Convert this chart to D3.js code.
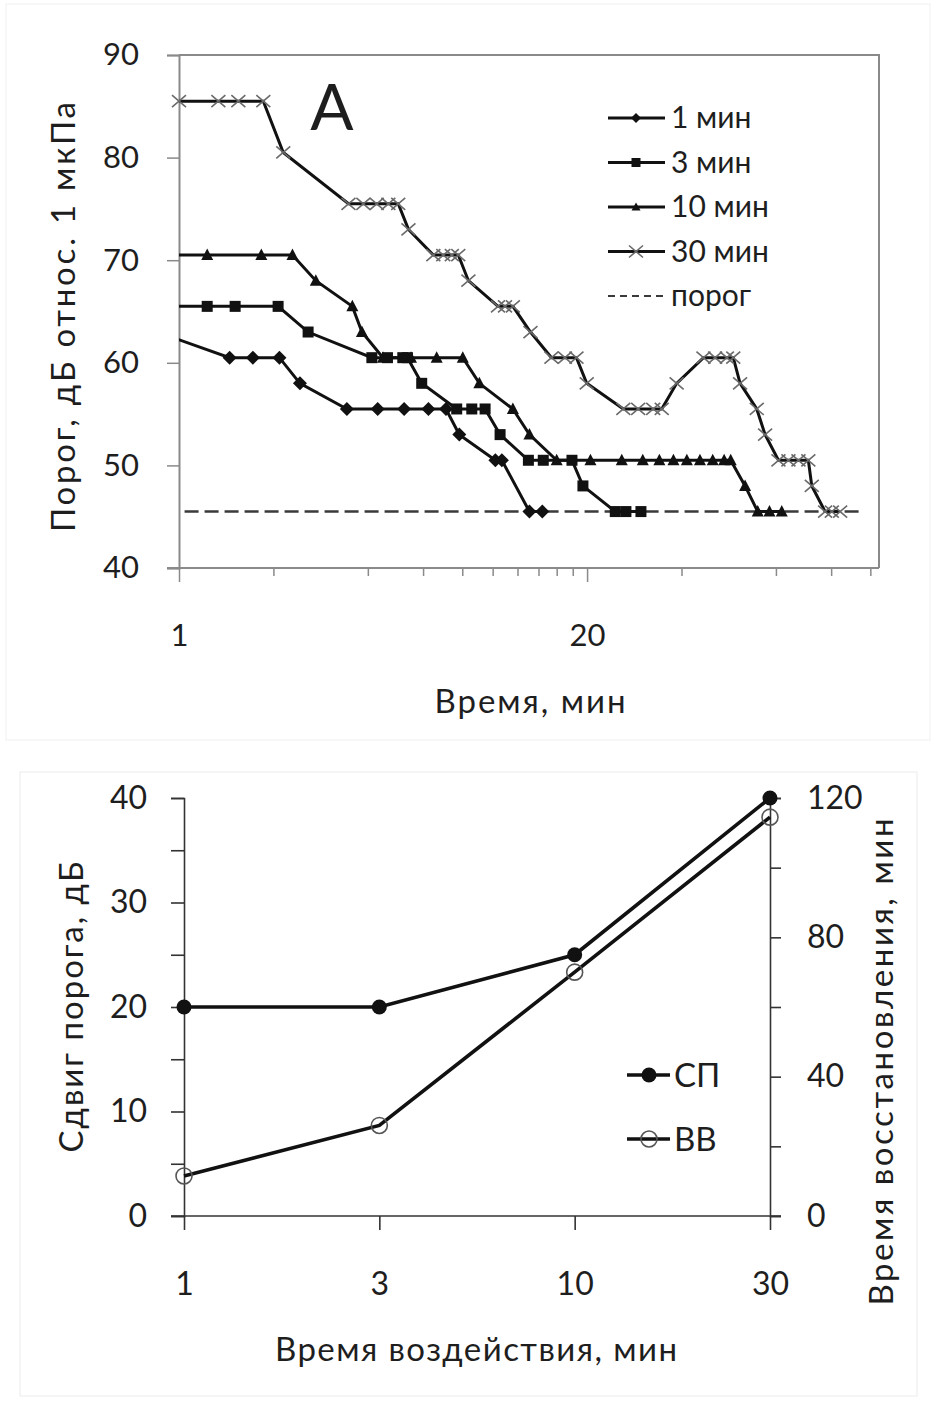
<!doctype html>
<html>
  <head>
    <script src="https://cdn.jsdelivr.net/npm/d3@7/dist/d3.min.js"></script>
    <style>
      body { margin: 0; background: #fff; }
      svg text { font-family: Lato, "Open Sans", sans-serif; fill: #1e1e1e; }
    </style>
  </head>
  <body>
    <svg id="viz" width="936" height="1404"></svg>
    <script>
      // ---- panel A: threshold recovery, [time after exposure (min), threshold dB]
      var series1 = [[0.5,65.5],[1.45,60.5],[1.72,60.5],[2.09,60.5],[2.43,58],[3.43,55.5],[4.3,55.5],[5.22,55.5],
        [6.24,55.5],[7.1,55.5],[7.83,53],[10.2,50.5],[10.7,50.5],[13.1,45.5],[14.4,45.5]];
      var series3 = [[0.5,65.5],[1.23,65.5],[1.51,65.5],[2.07,65.5],[2.58,63],[4.12,60.5],[4.62,60.5],[5.17,60.5],
        [5.35,60.5],[5.94,58],[7.68,55.5],[8.58,55.5],[9.46,55.5],[10.56,53],[13.0,50.5],[14.5,50.5],[17.9,50.5],
        [19.4,48],[24.6,45.5],[26.6,45.5],[29.7,45.5]];
      var series10 = [[0.5,70.5],[1.23,70.5],[1.83,70.5],[2.3,70.5],[2.73,68],[3.57,65.5],[3.83,63],[4.47,60.5],
        [5.49,60.5],[6.63,60.5],[8.03,60.5],[9.07,58],[11.6,55.5],[13.1,53],[16.0,50.5],[20.5,50.5],[25.8,50.5],
        [30.1,50.5],[34.0,50.5],[37.7,50.5],[41.6,50.5],[45.8,50.5],[50.3,50.5],[54.7,50.5],[57.4,50.5],[63.8,48],
        [70.0,45.5],[76.3,45.5],[83.5,45.5]];
      var series30 = [[1.0,85.5],[1.335,85.5],[1.546,85.5],[1.857,85.5],[2.15,80.5],[3.47,75.5],[3.87,75.5],[4.27,75.5],
        [4.65,75.5],[5.0,75.5],[5.39,73],[6.47,70.5],[6.96,70.5],[7.41,70.5],[7.77,70.5],[8.37,68],[10.4,65.5],
        [10.95,65.5],[11.6,65.5],[13.2,63],[15.4,60.5],[17.0,60.5],[18.5,60.5],[19.95,58],[26.1,55.5],[29.1,55.5],
        [32.5,55.5],[34.6,55.5],[38.6,58],[47.0,60.5],[51.2,60.5],[55.8,60.5],[58.5,60.5],[61.5,58],[69.5,55.5],
        [73.9,53],[81.5,50.5],[87.7,50.5],[94.4,50.5],[101.5,50.5],[104.1,48],[114.8,45.5],[120.6,45.5],[128.2,45.5]];
      var threshold = [[0.5,45.5],[150,45.5]];
      var seriesNames = ["1 мин", "3 мин", "10 мин", "30 мин", "порог"];
      var topXTicks = [1,2,4,6,8,10,12,14,16,18,20,40,80,120,160];
      var topXLabels = [1, 20];
      var topYTicks = [40,50,60,70,80,90];

      // ---- panel B: exposure time vs threshold shift and recovery time
      var exposure = ["1", "3", "10", "30"];
      var shift = [20, 20, 25, 40];          // СП, dB
      var recovery = [11.5, 26, 70, 114.5];  // ВВ, min
      var leftTicks = [0,5,10,15,20,25,30,35,40];
      var rightTicks = [0,20,40,60,80,100,120];

      var svg = d3.select("#viz");

      // faint frames of the two source images
      svg.append("rect").attr("x", 6).attr("y", 4).attr("width", 924).attr("height", 736)
        .attr("fill", "none").attr("stroke", "#f0f0f0");
      svg.append("rect").attr("x", 20).attr("y", 772).attr("width", 897).attr("height", 624)
        .attr("fill", "none").attr("stroke", "#ececec");

      // titles stretched to the extent they have in the original (Calibri is wider than Lato)
      function title(tx, ty, rot, len, txt) {
        svg.append("text")
          .attr("transform", "translate(" + tx + "," + ty + ")" + (rot ? " rotate(-90)" : ""))
          .attr("text-anchor", "middle")
          .attr("textLength", len).attr("lengthAdjust", "spacing")
          .style("font-size", "33px").text(txt);
      }

      // ================= panel A =================
      var x = d3.scaleLog().domain([1, 170.5]).range([179, 879]);
      var y = d3.scaleLinear().domain([40, 90]).range([568, 55]);

      svg.append("clipPath").attr("id", "plotA")
        .append("rect").attr("x", 179).attr("y", 55).attr("width", 700).attr("height", 513);

      // plot box (top and right edges)
      svg.append("path").attr("d", "M179,55H879V568")
        .attr("fill", "none").attr("stroke", "#8a8a8a").attr("stroke-width", 2);

      var xAxisA = svg.append("g").attr("transform", "translate(0,568)")
        .call(d3.axisBottom(x).tickValues(topXTicks).tickSize(8).tickPadding(48)
          .tickFormat(d => topXLabels.includes(d) ? d : ""));
      xAxisA.selectAll(".tick line").filter(d => topXLabels.includes(d)).attr("y2", 14);

      var yAxisA = svg.append("g").attr("transform", "translate(179,0)")
        .call(d3.axisLeft(y).tickValues(topYTicks).tickSize(12).tickPadding(28));

      [xAxisA, yAxisA].forEach(g => {
        g.select(".domain").attr("stroke", "#8a8a8a").attr("stroke-width", 2);
        g.selectAll(".tick line").attr("stroke", "#8a8a8a").attr("stroke-width", 1.5);
        g.selectAll(".tick text").style("font-size", "31px").attr("fill", "#1e1e1e");
      });
      xAxisA.select(".domain").attr("d", "M167,0H879");

      title(530, 713, false, 191, "Время, мин");
      title(75, 317, true, 430, "Порог, дБ относ. 1 мкПа");
      svg.append("text").attr("x", 332).attr("y", 130).attr("text-anchor", "middle")
        .style("font-size", "64px").text("A");

      var lineA = d3.line().x(d => x(d[0])).y(d => y(d[1]));
      var plotA = svg.append("g").attr("clip-path", "url(#plotA)");

      plotA.append("path").datum(threshold).attr("d", lineA)
        .attr("fill", "none").attr("stroke", "#3a3a3a").attr("stroke-width", 2.5)
        .attr("stroke-dasharray", "14,6");

      var diamond = "M0,-7L7,0L0,7L-7,0Z";
      var square = "M-5.5,-5.5H5.5V5.5H-5.5Z";
      var triangle = "M0,-6.5L6,5H-6Z";
      var cross = "M-7,-6L7,6M-7,6L7,-6";
      var markerDefs = [
        {data: series1, shape: diamond, cross: false},
        {data: series3, shape: square, cross: false},
        {data: series10, shape: triangle, cross: false},
        {data: series30, shape: cross, cross: true}
      ];

      markerDefs.forEach(s => {
        plotA.append("path").datum(s.data).attr("d", lineA)
          .attr("fill", "none").attr("stroke", "#111").attr("stroke-width", 3);
        svg.selectAll(null).data(s.data.filter(d => d[0] >= 1)).enter()
          .append("path")
            .attr("transform", d => "translate(" + x(d[0]) + "," + y(d[1]) + ")")
            .attr("d", s.shape)
            .attr("fill", s.cross ? "none" : "#111")
            .attr("stroke", s.cross ? "#6a6a6a" : "none")
            .attr("stroke-width", 1.6);
      });

      // legend A
      var legA = svg.append("g");
      seriesNames.forEach((name, i) => {
        var ly = 118 + i * 44.5;
        var row = legA.append("g").attr("transform", "translate(0," + ly + ")");
        if (i < 4) {
          row.append("line").attr("x1", 608).attr("x2", 665).attr("stroke", "#111").attr("stroke-width", 3);
          row.append("path").attr("transform", "translate(636,0)")
            .attr("d", [ "M0,-5L5,0L0,5L-5,0Z", "M-4.5,-4.5H4.5V4.5H-4.5Z", "M0,-4.5L4.5,3.5H-4.5Z", cross ][i])
            .attr("fill", i === 3 ? "none" : "#111")
            .attr("stroke", i === 3 ? "#6a6a6a" : "none").attr("stroke-width", 1.6);
        } else {
          row.append("line").attr("x1", 608).attr("x2", 665).attr("stroke", "#3a3a3a").attr("stroke-width", 2)
            .attr("stroke-dasharray", "7,5");
        }
        row.append("text").attr("x", 671).attr("y", 10).style("font-size", "30px").text(name);
      });

      // ================= panel B =================
      var xb = d3.scalePoint().domain(exposure).range([184, 770]);
      var yl = d3.scaleLinear().domain([0, 40]).range([1216, 798]);
      var yr = d3.scaleLinear().domain([0, 120]).range([1216, 798]);

      var xAxisB = svg.append("g").attr("transform", "translate(0,1216)")
        .call(d3.axisBottom(xb).tickSize(14).tickPadding(42));
      var ylAxis = svg.append("g").attr("transform", "translate(184,0)")
        .call(d3.axisLeft(yl).tickValues(leftTicks).tickSize(13).tickPadding(24)
          .tickFormat(d => d % 10 === 0 ? d : ""));
      var yrAxis = svg.append("g").attr("transform", "translate(770,0)")
        .call(d3.axisRight(yr).tickValues(rightTicks).tickSize(11).tickPadding(26)
          .tickFormat(d => d % 40 === 0 ? d : ""));

      [xAxisB, ylAxis, yrAxis].forEach(g => {
        g.select(".domain").attr("stroke", "#333").attr("stroke-width", 1.6);
        g.selectAll(".tick line").attr("stroke", "#333").attr("stroke-width", 1.6);
        g.selectAll(".tick text").style("font-size", "32px").attr("fill", "#1e1e1e");
      });
      xAxisB.select(".domain").attr("d", "M171,0H781");

      title(476, 1361, false, 402, "Время воздействия, мин");
      title(83, 1007, true, 291, "Сдвиг порога, дБ");
      title(893, 1062, true, 487, "Время восстановления, мин");

      var shiftPts = exposure.map((e, i) => [xb(e), yl(shift[i])]);
      var recPts = exposure.map((e, i) => [xb(e), yr(recovery[i])]);

      svg.append("path").datum(recPts).attr("d", d3.line())
        .attr("fill", "none").attr("stroke", "#111").attr("stroke-width", 3.6);
      svg.selectAll(null).data(recPts).enter().append("circle")
        .attr("cx", d => d[0]).attr("cy", d => d[1]).attr("r", 8)
        .attr("fill", "none").attr("stroke", "#555").attr("stroke-width", 1.6);

      svg.append("path").datum(shiftPts).attr("d", d3.line())
        .attr("fill", "none").attr("stroke", "#111").attr("stroke-width", 3.6);
      svg.selectAll(null).data(shiftPts).enter().append("circle")
        .attr("cx", d => d[0]).attr("cy", d => d[1]).attr("r", 7.5).attr("fill", "#111");

      // legend B
      [["СП", true], ["ВВ", false]].forEach((item, i) => {
        var ly = 1075 + i * 64;
        svg.append("line").attr("x1", 627).attr("x2", 670).attr("y1", ly).attr("y2", ly)
          .attr("stroke", "#111").attr("stroke-width", 3.6);
        svg.append("circle").attr("cx", 649).attr("cy", ly).attr("r", item[1] ? 7.5 : 8)
          .attr("fill", item[1] ? "#111" : "none").attr("stroke", item[1] ? "none" : "#555")
          .attr("stroke-width", 1.6);
        svg.append("text").attr("x", 674).attr("y", ly + 12).style("font-size", "33px").text(item[0]);
      });
    </script>
  </body>
</html>
